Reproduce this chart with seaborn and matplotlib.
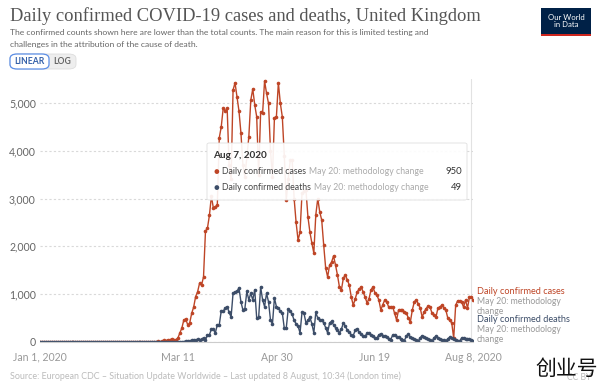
import matplotlib
matplotlib.use('Agg')
import matplotlib.pyplot as plt
from matplotlib.patches import FancyBboxPatch, Rectangle
import seaborn as sns
import pandas as pd

# daily confirmed cases, one list per month (2020)
cases_jan = [0, 0, 0, 0, 0, 0, 0, 0, 0, 0, 0, 0, 0, 0, 0, 0, 0, 0, 0, 0,
             0, 0, 0, 0, 0, 0, 0, 0, 0, 0, 2]
cases_feb = [0, 0, 0, 0, 0, 1, 0, 0, 0, 4, 1, 0, 0, 0, 0, 0, 0, 0, 0, 0,
             0, 0, 0, 4, 0, 0, 2, 5, 3]
cases_mar = [12, 4, 11, 34, 30, 48, 43, 67, 46, 50, 83, 190, 290, 460, 480, 355,
             400, 600, 730, 950, 1050, 1230, 1190, 1360, 2320, 2380, 2650, 3050,
             2800, 2830, 2860]
cases_apr = [4270, 4500, 4890, 4830, 4890, 3700, 3400, 5270, 5420, 5130,
             4830, 4370, 3700, 3450, 3870, 4290, 5060, 5290, 4960, 4710,
             3500, 4810, 4790, 5460, 5200, 4990, 4000, 3450, 4690, 4710]
cases_may = [5420, 4990, 4710, 3900, 2970, 3400, 3800, 3800, 3000, 2500,
             2130, 2300, 3110, 3150, 3180, 2620, 2300, 2070, 1860, 2660,
             3000, 2720, 2550, 2030, 1550, 1360, 1610, 1670, 1800, 1610, 1400]
cases_jun = [1150, 1090, 1340, 1400, 1300, 1190, 940, 770, 900, 1050,
             1100, 1150, 1050, 940, 820, 900, 1090, 1150, 1030, 980,
             880, 670, 780, 880, 840, 730, 730, 740, 600, 460]
cases_jul = [670, 670, 660, 630, 600, 500, 420, 670, 840, 880,
             800, 710, 520, 630, 700, 750, 730, 600, 560, 520,
             710, 730, 770, 720, 670, 500, 450, 400, 80, 770, 860]
cases_aug = [850, 840, 730, 880, 710, 940, 950, 870]

# daily confirmed deaths
deaths_jan = [0, 0, 0, 0, 0, 0, 0, 0, 0, 0, 0, 0, 0, 0, 0, 0, 0, 0, 0, 0,
              0, 0, 0, 0, 0, 0, 0, 0, 0, 0, 0]
deaths_feb = [0, 0, 0, 0, 0, 0, 0, 0, 0, 0, 0, 0, 0, 0, 0, 0, 0, 0, 0, 0,
              0, 0, 0, 0, 0, 0, 0, 0, 0]
deaths_mar = [0, 0, 0, 0, 0, 1, 0, 1, 0, 2, 2, 2, 1, 10, 14, 20, 16, 34, 43, 33,
              56, 48, 54, 87, 41, 150, 150, 270, 270, 190, 360]
deaths_apr = [360, 650, 640, 710, 740, 620, 520, 1020, 1050, 1060,
              1130, 840, 670, 700, 1060, 880, 1020, 880, 1090, 500,
              520, 1150, 880, 740, 1020, 840, 460, 380, 920, 740]
deaths_may = [710, 650, 610, 290, 290, 690, 640, 580, 450, 380,
              330, 190, 620, 600, 400, 450, 520, 380, 190, 620,
              500, 460, 460, 400, 300, 190, 400, 430, 360, 300, 260]
deaths_jun = [190, 270, 400, 330, 250, 200, 150, 130, 250, 280,
              200, 170, 130, 120, 180, 190, 150, 120, 90, 80,
              150, 170, 130, 130, 100, 60, 50, 140, 150, 110]
deaths_jul = [100, 70, 40, 30, 130, 160, 100, 80, 60, 40,
              20, 90, 130, 110, 80, 60, 40, 15, 90, 120,
              80, 60, 50, 40, 20, 70, 100, 80, 60, 50, 30]
deaths_aug = [20, 80, 90, 70, 60, 55, 49, 30]

cases = cases_jan + cases_feb + cases_mar + cases_apr + cases_may + cases_jun + cases_jul + cases_aug
deaths = deaths_jan + deaths_feb + deaths_mar + deaths_apr + deaths_may + deaths_jun + deaths_jul + deaths_aug

tick_dates = ["2020-01-01", "2020-03-11", "2020-04-30", "2020-06-19", "2020-08-08"]
tick_labels = ["Jan 1, 2020", "Mar 11", "Apr 30", "Jun 19", "Aug 8, 2020"]
y_ticks = [0, 1000, 2000, 3000, 4000, 5000]

df = pd.DataFrame({
    "date": pd.date_range("2020-01-01", periods=len(cases), freq="D"),
    "cases": cases,
    "deaths": deaths,
})

CASES_C = "#be4526"
DEATHS_C = "#3c4d68"

sns.set_style("white")
plt.rcParams['font.family'] = ['Lato', 'DejaVu Sans']

W, H = 600, 387
fig = plt.figure(figsize=(6, 3.87), dpi=100)


def fx(x):
    return x / W


def fy(y):
    return 1 - y / H


ax = fig.add_axes([fx(40), fy(342), fx(473.4) - fx(40), fy(79) - fy(342)])

ax.axvline(pd.Timestamp("2020-08-07"), color="#e2e2e2", lw=0.8, zorder=0)
sns.lineplot(data=df, x="date", y="cases", color=CASES_C, marker="o", markersize=2.6,
             markeredgewidth=0, linewidth=1.0, ax=ax)
sns.lineplot(data=df, x="date", y="deaths", color=DEATHS_C, marker="o", markersize=2.6,
             markeredgewidth=0, linewidth=1.0, ax=ax)

ax.set_xlim(pd.Timestamp("2020-01-01"), pd.Timestamp("2020-08-08"))
ax.set_ylim(0, 5500)
ax.set_yticks(y_ticks)
ax.set_yticklabels([f"{v:,}" for v in y_ticks])
ax.set_xticks(pd.to_datetime(tick_dates))
ax.set_xticklabels(tick_labels)
ax.set_xlabel("")
ax.set_ylabel("")
ax.grid(axis="y", color="#d9d9d9", linestyle=(0, (2, 2)), linewidth=0.8)
for s in ["top", "right", "left"]:
    ax.spines[s].set_visible(False)
ax.spines["bottom"].set_color("#cccccc")
ax.spines["bottom"].set_linewidth(0.8)
ax.tick_params(axis="y", length=0, labelsize=7.6, labelcolor="#666666", pad=3)
ax.tick_params(axis="x", length=3, color="#cccccc", labelsize=7.6, labelcolor="#999999", pad=4)
ax.set_axisbelow(True)

# title block
fig.text(fx(10), fy(16), "Daily confirmed COVID-19 cases and deaths, United Kingdom",
         family="Liberation Serif", fontsize=13.3, color="#555555", va="center")
fig.text(fx(10), fy(32), "The confirmed counts shown here are lower than the total counts. The main reason for this is limited testing and",
         fontsize=6.1, color="#666666", va="center")
fig.text(fx(10), fy(45), "challenges in the attribution of the cause of death.",
         fontsize=6.1, color="#666666", va="center")

# linear / log toggle
fig.patches.append(FancyBboxPatch((fx(10), fy(69)), fx(66), fy(54) - fy(69),
                                  boxstyle="round,pad=0,rounding_size=0.012",
                                  transform=fig.transFigure, fc="#eeeeee", ec="#dddddd", lw=0.6))
fig.patches.append(FancyBboxPatch((fx(10), fy(69)), fx(39), fy(54) - fy(69),
                                  boxstyle="round,pad=0,rounding_size=0.012",
                                  transform=fig.transFigure, fc="white", ec="#5b8ee6", lw=0.9))
fig.text(fx(29.5), fy(61.5), "LINEAR", fontsize=6.2, color="#3360a9", ha="center", va="center", weight="bold")
fig.text(fx(62), fy(61.5), "LOG", fontsize=6.2, color="#666666", ha="center", va="center", weight="bold")

# logo
fig.patches.append(Rectangle((fx(541), fy(34)), fx(50), fy(8) - fy(34),
                             transform=fig.transFigure, fc="#002147", ec="none"))
fig.patches.append(Rectangle((fx(541), fy(36)), fx(50), fy(34) - fy(36),
                             transform=fig.transFigure, fc="#ce261e", ec="none"))
fig.text(fx(566), fy(21), "Our World\nin Data", fontsize=5.6, color="white",
         ha="center", va="center", linespacing=1.0)

# end labels
fig.text(fx(477), fy(292), "Daily confirmed cases", fontsize=6.6, color=CASES_C, va="center")
fig.text(fx(477), fy(302), "May 20: methodology", fontsize=6.2, color="#999999", va="center")
fig.text(fx(477), fy(311), "change", fontsize=6.2, color="#999999", va="center")
fig.text(fx(477), fy(320), "Daily confirmed deaths", fontsize=6.6, color=DEATHS_C, va="center")
fig.text(fx(477), fy(330), "May 20: methodology", fontsize=6.2, color="#999999", va="center")
fig.text(fx(477), fy(339), "change", fontsize=6.2, color="#999999", va="center")

# tooltip
fig.patches.append(FancyBboxPatch((fx(207), fy(200)), fx(260), fy(143) - fy(200),
                                  boxstyle="round,pad=0,rounding_size=0.004",
                                  transform=fig.transFigure, fc="white", ec="#dddddd",
                                  lw=0.6, alpha=0.92, zorder=5))
fig.text(fx(213), fy(155), "Aug 7, 2020", fontsize=7.2, color="#333333", weight="bold", va="center", zorder=6)
renderer = fig.canvas.get_renderer()
rows = [(172, CASES_C, "Daily confirmed cases", "950"),
        (188, DEATHS_C, "Daily confirmed deaths", "49")]
for yy, col, name, val in rows:
    fig.text(fx(216), fy(yy), "●", fontsize=7, color=col, ha="center", va="center", zorder=6)
    t = fig.text(fx(222), fy(yy), name, fontsize=6.3, color="#444444", va="center", zorder=6)
    x_end = t.get_window_extent(renderer).x1
    fig.text(fx(x_end + 3), fy(yy), "May 20: methodology change", fontsize=6.3,
             color="#aaaaaa", va="center", zorder=6)
    fig.text(fx(462), fy(yy), val, fontsize=6.8, color="#333333", ha="right", va="center", zorder=6)

# footer
fig.text(fx(10), fy(376), "Source: European CDC – Situation Update Worldwide – Last updated 8 August, 10:34 (London time)",
         fontsize=6.4, color="#bbbbbb", va="center")
fig.text(fx(591), fy(377), "CC BY", fontsize=6.2, color="#bbbbbb", ha="right", va="center")
fig.text(fx(598), fy(369), "创业号", family=["Noto Sans CJK SC", "DejaVu Sans"],
         fontsize=15, color="#111111", ha="right", va="center", weight="light", zorder=7)

fig.savefig("out.png", dpi=100)
